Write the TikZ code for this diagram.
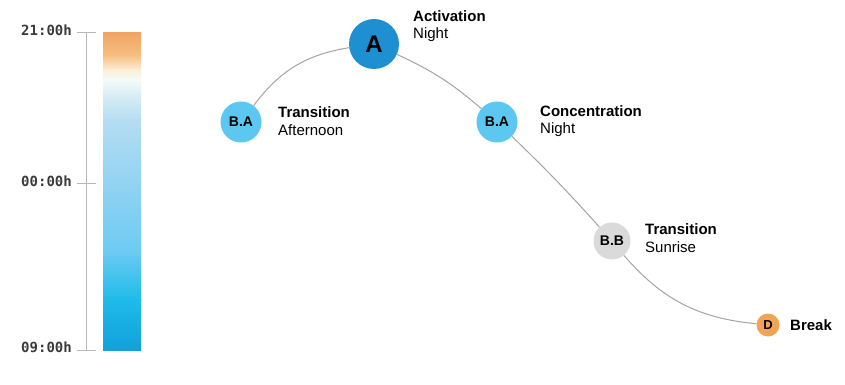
\documentclass[tikz,border=0pt]{standalone}
\usepackage{fontspec}
\setmainfont{Liberation Sans}
\newfontfamily\axisfont{DejaVu Sans Mono}
\definecolor{lblue}{HTML}{5CC8F2}
\definecolor{dblue}{HTML}{1E8FD0}
\definecolor{ngray}{HTML}{DADADA}
\definecolor{norange}{HTML}{F2A455}
\definecolor{lcol}{HTML}{A8A2A0}
\definecolor{axcol}{HTML}{B8B8B8}
\definecolor{txt}{HTML}{3A3A3A}
\definecolor{g1}{HTML}{F0A565}
\definecolor{g2}{HTML}{F7BE80}
\definecolor{g3}{HTML}{FCEFD8}
\definecolor{g4}{HTML}{F4FAF8}
\definecolor{g5}{HTML}{D8EEF4}
\definecolor{g6}{HTML}{B5DDF2}
\definecolor{g7}{HTML}{92D3F2}
\definecolor{g8}{HTML}{6ECBF3}
\definecolor{g9}{HTML}{1EBBEA}
\definecolor{g10}{HTML}{12A0DA}
\tikzset{
  circ/.style={circle, inner sep=0pt, font=\bfseries\fontsize{14}{14}\selectfont, text=black},
  lab/.style={anchor=west, align=left, inner sep=0pt, font=\fontsize{15}{17.5}\selectfont, text=black},
  conn/.style={draw=lcol, line width=1pt},
  axlab/.style={anchor=east, inner sep=0pt, text=txt, font=\axisfont\bfseries\fontsize{14}{14}\selectfont},
  tick/.style={draw=axcol, line width=1pt}
}
\begin{document}
\begin{tikzpicture}[x=1pt,y=-1pt]
\useasboundingbox (0,0) rectangle (845,385);
% gradient bar
\foreach \ya/\yb/\ca/\cb in {33/55/g1/g2, 55/70/g2/g3, 70/80/g3/g4, 80/95/g4/g5, 95/120/g5/g6, 120/183/g6/g7, 183/250/g7/g8, 250/300/g8/g9, 300/350/g9/g10}{
  \shade[top color=\ca, bottom color=\cb] (103,\ya-0.3) rectangle (141,\yb+0.3);
}
% axis
\coordinate (axtop) at (86,33);
\coordinate (axbot) at (86,350);
\draw[tick] (axtop) -- (axbot);
\coordinate (t1) at (77,33); \coordinate (t1e) at (96,33);
\coordinate (t2) at (77,183); \coordinate (t2e) at (96,183);
\coordinate (t3) at (77,350); \coordinate (t3e) at (96,350);
\draw[tick] (t1) -- (t1e);
\draw[tick] (t2) -- (t2e);
\draw[tick] (t3) -- (t3e);
\node[axlab] (l1) at (72,30) {21:00h};
\node[axlab] (l2) at (72,181) {00:00h};
\node[axlab] (l3) at (72,347) {09:00h};
% nodes
\node[circ, fill=lblue, minimum size=41pt] (ba1) at (241,122) {B.A};
\node[circ, fill=dblue, minimum size=50pt, font=\bfseries\fontsize{24}{24}\selectfont] (a) at (374,44) {A};
\node[circ, fill=lblue, minimum size=41pt] (ba2) at (497,122) {B.A};
\node[circ, fill=ngray, minimum size=37pt] (bb) at (612,241) {B.B};
\node[circ, fill=norange, minimum size=23pt, font=\bfseries\fontsize{13}{13}\selectfont] (d) at (768,325) {D};
% connectors
\draw[conn] (ba1) to[bend left=22] (a);
\draw[conn] (a) to[bend left=8] (ba2);
\draw[conn] (ba2) to[bend left=2] (bb);
\draw[conn] (bb) to[bend right=22] (d);
% labels
\node[lab] (tba1) at (278,121) {\textbf{Transition}\\Afternoon};
\node[lab] (ta) at (413,26) {\textbf{Activation}\\Night};
\node[lab] (tba2) at (540,121) {\textbf{Concentration}\\Night};
\node[lab] (tbb) at (645,238) {\textbf{Transition}\\Sunrise};
\node[lab, font=\bfseries\fontsize{15}{17.5}\selectfont] (td) at (790,325) {Break};
\end{tikzpicture}
\end{document}
